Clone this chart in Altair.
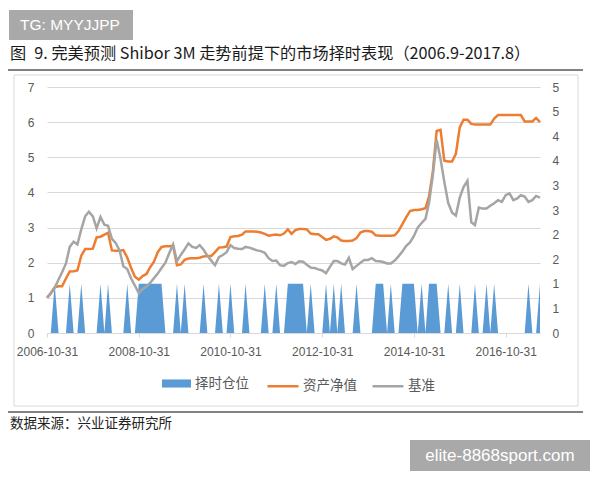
import calendar
import altair as alt
import pandas as pd

# ---------------- data ----------------
# timing position (0/1), monthly from 2006-10-31
pos = [
    0, 0, 1, 0, 0, 0, 1, 0, 0, 1,
    0, 0, 0, 0, 1, 0, 1, 0, 0, 0,
    0, 1, 0, 0, 1, 1, 1, 1, 1, 1,
    1, 0, 0, 0, 1, 0, 1, 0, 0, 0,
    0, 1, 0, 0, 0, 1, 0, 0, 1, 0,
    0, 0, 1, 0, 0, 0, 0, 1, 0, 0,
    1, 0, 0, 1, 1, 1, 1, 1, 0, 1,
    0, 0, 0, 1, 0, 1, 0, 1, 0, 0,
    0, 1, 0, 0, 0, 0, 1, 1, 1, 0,
    1, 0, 0, 1, 1, 1, 1, 0, 1, 0,
    1, 1, 1, 0, 0, 1, 0, 0, 1, 0,
    0, 0, 1, 0, 0, 1, 0, 1, 0, 0,
    0, 0, 0, 0, 0, 0, 1, 0, 0, 1,
]
# strategy net value (资产净值)
net = [
    1.00, 1.14, 1.30, 1.33, 1.33, 1.55, 1.75, 1.76, 1.78, 2.20,
    2.39, 2.39, 2.40, 2.72, 2.74, 2.80, 2.85, 2.35, 2.34, 2.34,
    2.36, 2.15, 1.85, 1.60, 1.52, 1.62, 1.68, 1.88, 2.02, 2.30,
    2.45, 2.47, 2.47, 2.48, 1.93, 1.95, 2.08, 2.12, 2.13, 2.13,
    2.14, 2.18, 2.19, 2.19, 2.30, 2.43, 2.44, 2.46, 2.73, 2.75,
    2.76, 2.80, 2.89, 2.89, 2.89, 2.88, 2.86, 2.82, 2.77, 2.79,
    2.80, 2.78, 2.83, 2.95, 2.82, 2.93, 2.96, 2.96, 2.95, 2.83,
    2.81, 2.81, 2.73, 2.65, 2.68, 2.75, 2.72, 2.63, 2.62, 2.62,
    2.63, 2.70, 2.86, 2.90, 2.90, 2.88, 2.78, 2.77, 2.77, 2.77,
    2.77, 2.78, 2.90, 3.10, 3.30, 3.47, 3.50, 3.50, 3.52, 3.55,
    3.88, 4.60, 5.75, 5.78, 4.90, 4.88, 4.88, 5.10, 5.85, 6.07,
    6.07, 5.95, 5.93, 5.93, 5.93, 5.93, 5.93, 6.10, 6.20, 6.20,
    6.20, 6.20, 6.20, 6.20, 6.20, 6.02, 6.02, 6.02, 6.12, 6.00,
]
# benchmark (基准)
bench = [
    1.00, 1.12, 1.28, 1.52, 1.73, 1.98, 2.45, 2.60, 2.52, 2.95,
    3.32, 3.45, 3.32, 2.98, 3.30, 3.08, 3.05, 2.68, 2.56, 2.35,
    1.90, 1.82, 1.55, 1.35, 1.13, 1.25, 1.32, 1.43, 1.56, 1.69,
    1.85, 2.00, 2.27, 2.52, 2.04, 2.22, 2.38, 2.55, 2.45, 2.42,
    2.50, 2.37, 2.20, 2.06, 1.93, 2.16, 2.22, 2.30, 2.50, 2.42,
    2.40, 2.39, 2.45, 2.43, 2.39, 2.35, 2.33, 2.28, 2.13, 2.05,
    2.06, 1.93, 1.91, 1.99, 2.02, 1.96, 2.04, 2.03, 1.94, 1.86,
    1.85, 1.81, 1.78, 1.70, 1.88, 2.05, 2.05, 1.98, 1.95, 2.14,
    1.82, 1.91, 2.00, 2.08, 2.08, 2.13, 2.05, 2.04, 2.02, 1.98,
    1.98, 2.06, 2.18, 2.32, 2.48, 2.58, 2.76, 3.00, 3.13, 3.25,
    3.70, 4.50, 5.50, 4.95, 4.30, 3.70, 3.42, 3.34, 3.85, 4.15,
    4.33, 3.15, 3.07, 3.57, 3.54, 3.54, 3.62, 3.69, 3.78, 3.73,
    3.92, 3.97, 3.78, 3.83, 3.92, 3.88, 3.73, 3.78, 3.90, 3.85,
]

series_names = ["择时仓位", "资产净值", "基准"]
x_tick_labels = ["2006-10-31", "2008-10-31", "2010-10-31",
                 "2012-10-31", "2014-10-31", "2016-10-31"]
left_ticks = [0, 1, 2, 3, 4, 5, 6, 7]
right_ticks = [0, 0.5, 1, 1.5, 2, 2.5, 3, 3.5, 4, 4.5, 5]

title_text = "图\u20029. 完美预测 Shibor 3M 走势前提下的市场择时表现（2006.9-2017.8）"
source_text = "数据来源：兴业证券研究所"
wm1_text = "TG: MYYJJPP"
wm2_text = "elite-8868sport.com"

# month-end dates starting 2006-10-31
dates = []
y, m = 2006, 10
for _ in range(len(pos)):
    d = calendar.monthrange(y, m)[1]
    dates.append(f"{y:04d}-{m:02d}-{d:02d}")
    m += 1
    if m > 12:
        m = 1
        y += 1

area_df = pd.DataFrame({"date": dates, "pos": pos, "name": series_names[0]})
lines_df = pd.concat([
    pd.DataFrame({"date": dates, "value": net, "series": series_names[1]}),
    pd.DataFrame({"date": dates, "value": bench, "series": series_names[2]}),
], ignore_index=True)

BLUE = "#5B9BD5"
ORANGE = "#ED7D31"
GRAY = "#A5A5A5"
LABEL = "#595959"
NUMFONT = "Liberation Sans"
CJK = "Noto Sans CJK SC"

def dt(s):
    yy, mm, dd = (int(v) for v in s.split("-"))
    return alt.DateTime(year=yy, month=mm, date=dd, utc=True)

xscale = alt.Scale(type="utc", domain=[dt(dates[0]), dt(dates[-1])])
xaxis = alt.Axis(values=[dt(s) for s in x_tick_labels],
                 labelExpr="utcFormat(datum.value, '%Y-%m-%d')",
                 grid=False, domain=True, domainColor="#d9d9d9",
                 ticks=True, tickColor="#d9d9d9", tickSize=4, labelPadding=9,
                 labelColor=LABEL, labelFontSize=12, labelFont=NUMFONT,
                 labelOverlap=False, labelFlush=False)
X = alt.X("date:T", scale=xscale, axis=xaxis, title=None)

area = alt.Chart(area_df).mark_area(interpolate="linear").encode(
    x=X,
    y=alt.Y("pos:Q", scale=alt.Scale(domain=[0, 5], nice=False, zero=True),
            axis=alt.Axis(orient="right", values=right_ticks,
                          labelExpr="'' + floor(datum.value + 0.5)",
                          grid=False, domain=False, ticks=False, offset=12,
                          labelPadding=0, labelAlign="left",
                          labelColor=LABEL, labelFontSize=12, labelFont=NUMFONT),
            title=None),
    fill=alt.Fill("name:N", scale=alt.Scale(domain=[series_names[0]], range=[BLUE]),
                  legend=alt.Legend(orient="none", legendX=115, legendY=282,
                                    direction="horizontal", title=None, padding=0,
                                    symbolType="M-1,-0.28L1,-0.28L1,0.28L-1,0.28Z",
                                    symbolSize=841, symbolStrokeWidth=0,
                                    labelFont=CJK, labelFontSize=13.5,
                                    labelColor=LABEL, labelOffset=4)),
)

Y_left = alt.Y("value:Q", scale=alt.Scale(domain=[0, 7], nice=False),
               axis=alt.Axis(orient="left", values=left_ticks, grid=True,
                             gridColor="#d9d9d9", gridWidth=1, domain=False,
                             ticks=False, labelPadding=13, labelColor=LABEL,
                             labelFontSize=12, labelFont=NUMFONT),
               title=None)
S = alt.Stroke("series:N",
               scale=alt.Scale(domain=series_names[1:], range=[ORANGE, GRAY]),
               legend=alt.Legend(orient="none", legendX=219, legendY=282,
                                 direction="horizontal", title=None, padding=0,
                                 symbolType="stroke", symbolSize=961,
                                 symbolStrokeWidth=2.5, columnPadding=10,
                                 labelFont=CJK, labelFontSize=13.5,
                                 labelColor=LABEL, labelOffset=3))

net_line = alt.Chart(lines_df).transform_filter(
    f"datum.series == '{series_names[1]}'"
).mark_line(strokeWidth=2.5).encode(x=X, y=Y_left, stroke=S)
bench_line = alt.Chart(lines_df).transform_filter(
    f"datum.series == '{series_names[2]}'"
).mark_line(strokeWidth=2.5).encode(x=X, y=Y_left, stroke=S)
lines = alt.layer(net_line, bench_line)

one = pd.DataFrame({"t": [""]})

# decorations (absolute page px minus plot origin 47, 87)
box = alt.Chart(one).mark_rect(fill="transparent", stroke="#d9d9d9", strokeWidth=1).encode(
    x=alt.value(-33), x2=alt.value(531), y=alt.value(-12), y2=alt.value(319))
rule_top = alt.Chart(one).mark_rule(color="#595959", strokeWidth=1.5).encode(
    x=alt.value(-39), x2=alt.value(536), y=alt.value(-17))
rule_bot = alt.Chart(one).mark_rule(color="#595959", strokeWidth=1.5).encode(
    x=alt.value(-39), x2=alt.value(536), y=alt.value(325))
title = alt.Chart(pd.DataFrame({"t": [title_text]})).mark_text(
    align="left", baseline="middle", font=CJK, fontSize=16.2, color="#1a1a1a"
).encode(x=alt.value(-37), y=alt.value(-33), text="t:N")
source = alt.Chart(pd.DataFrame({"t": [source_text]})).mark_text(
    align="left", baseline="middle", font=CJK, fontSize=13.5, color="#222222"
).encode(x=alt.value(-37), y=alt.value(337), text="t:N")
wm1_box = alt.Chart(one).mark_rect(fill="#a9a9a9").encode(
    x=alt.value(-38), x2=alt.value(86), y=alt.value(-77), y2=alt.value(-47))
wm1 = alt.Chart(pd.DataFrame({"t": [wm1_text]})).mark_text(
    align="left", baseline="middle", font=NUMFONT, fontSize=15.5, color="white"
).encode(x=alt.value(-27), y=alt.value(-62), text="t:N")
wm2_box = alt.Chart(one).mark_rect(fill="#a9a9a9").encode(
    x=alt.value(363), x2=alt.value(543), y=alt.value(353), y2=alt.value(384))
wm2 = alt.Chart(pd.DataFrame({"t": [wm2_text]})).mark_text(
    align="center", baseline="middle", font=NUMFONT, fontSize=17, color="white"
).encode(x=alt.value(453), y=alt.value(368.5), text="t:N")

chart = alt.layer(
    box, area, lines, rule_top, rule_bot, title, source, wm1_box, wm1, wm2_box, wm2
).resolve_scale(y="independent").properties(
    width=493, height=246,
    autosize=alt.AutoSizeParams(type="none"),
    padding={"left": 47, "top": 87, "right": 60, "bottom": 147},
    background="white",
).configure_view(stroke=None)

chart.save("out.html", embed_options={"renderer": "svg", "actions": False})
